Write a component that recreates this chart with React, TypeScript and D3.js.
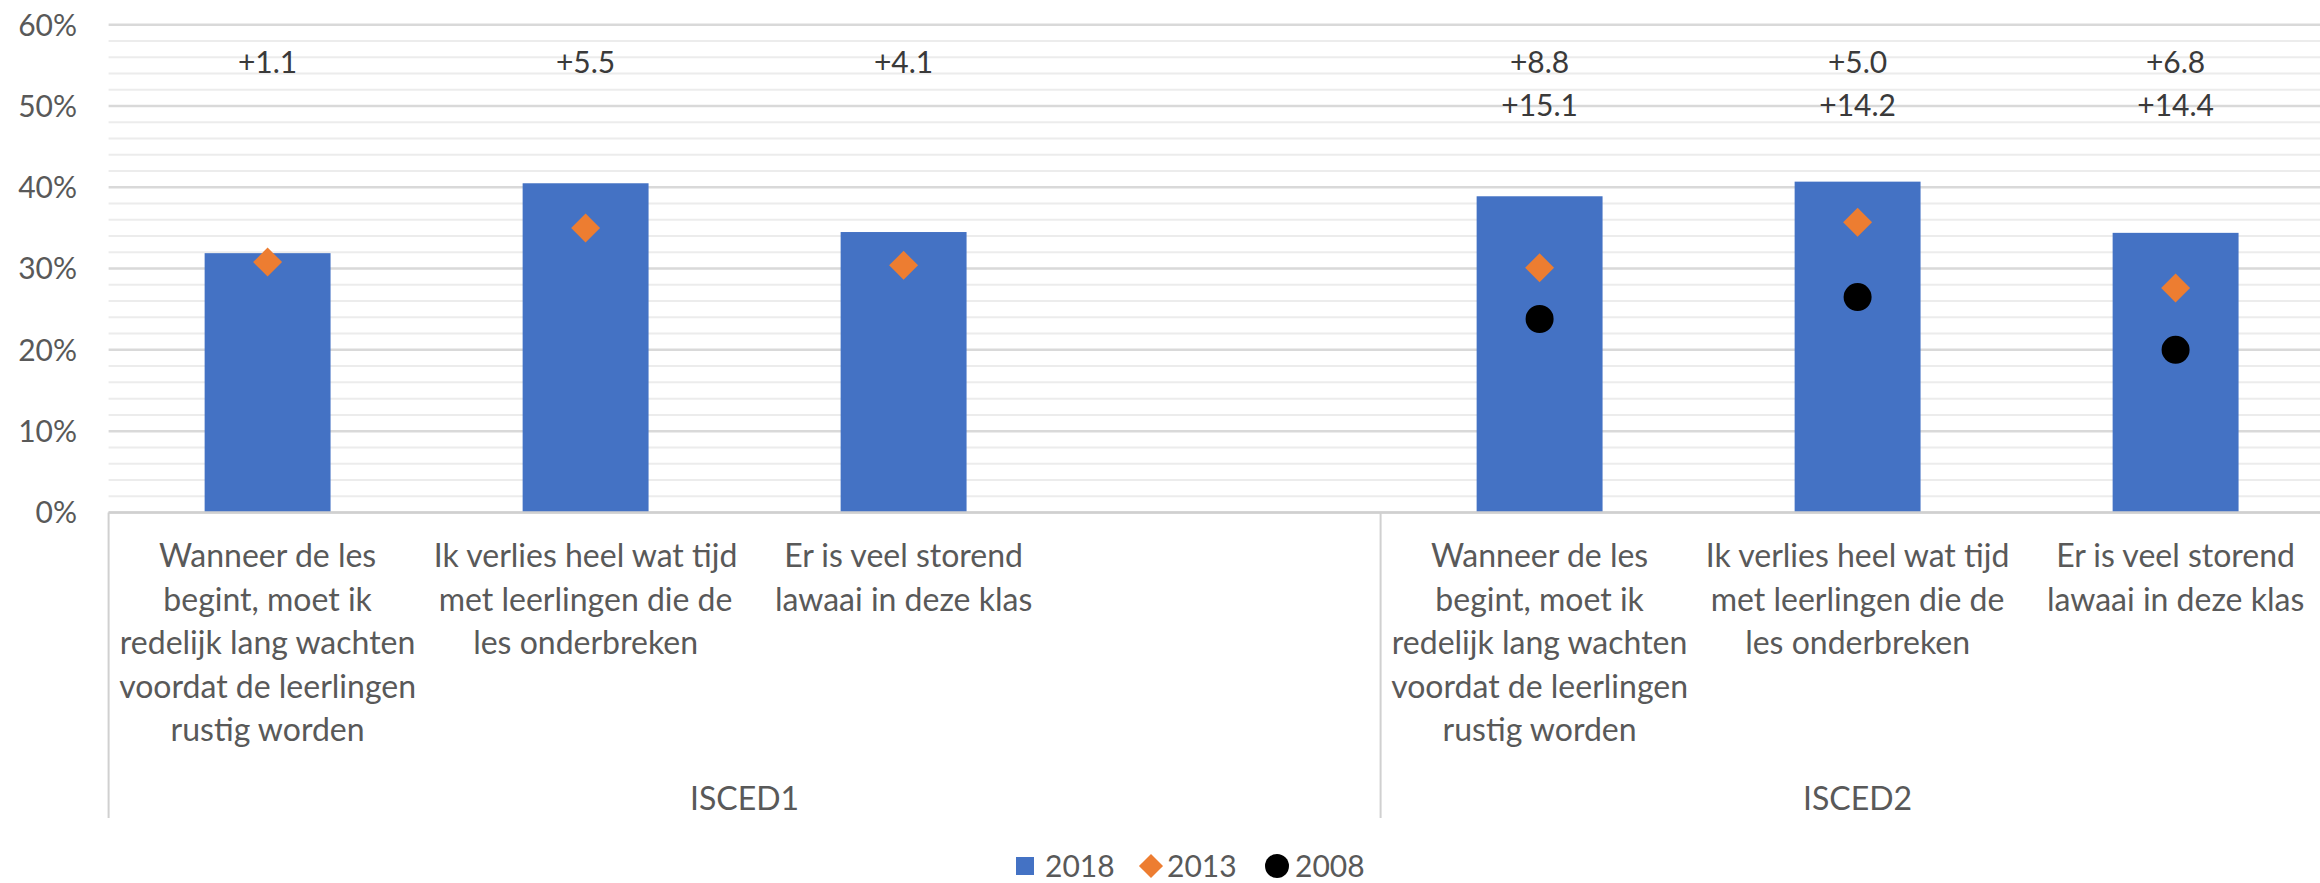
import React from "react";
import * as d3 from "d3";

// ---- data ----
const categoryIds = ["i1a", "i1b", "i1c", "i1gap", "i2a", "i2b", "i2c"];
const categoryLines: string[][] = [
  ["Wanneer de les", "begint, moet ik", "redelijk lang wachten", "voordat de leerlingen", "rustig worden"],
  ["Ik verlies heel wat tijd", "met leerlingen die de", "les onderbreken"],
  ["Er is veel storend", "lawaai in deze klas"],
  [],
  ["Wanneer de les", "begint, moet ik", "redelijk lang wachten", "voordat de leerlingen", "rustig worden"],
  ["Ik verlies heel wat tijd", "met leerlingen die de", "les onderbreken"],
  ["Er is veel storend", "lawaai in deze klas"],
];
const groups = ["ISCED1", "ISCED2"];
const groupSizes = [4, 3];
const values2018: (number | null)[] = [31.9, 40.5, 34.5, null, 38.9, 40.7, 34.4];
const values2013: (number | null)[] = [30.8, 35.0, 30.4, null, 30.1, 35.7, 27.6];
const values2008: (number | null)[] = [null, null, null, null, 23.8, 26.5, 20.0];
const diff2013: string[] = ["+1.1", "+5.5", "+4.1", "", "+8.8", "+5.0", "+6.8"];
const diff2008: string[] = ["", "", "", "", "+15.1", "+14.2", "+14.4"];
const yTicks = [0, 10, 20, 30, 40, 50, 60];
const seriesNames = ["2018", "2013", "2008"];

// ---- layout ----
const W = 2320;
const H = 883;
const left = 108.6;
const slot = 318;
const right = left + slot * categoryIds.length;
const y0 = 512.4;
const yTop = 24.8;

const BLUE = "#4472C4";
const ORANGE = "#ED7D31";
const FONT = "Lato, 'Open Sans', sans-serif";
const GRAY_TEXT = "#595959";

export default function App() {
  const x = d3
    .scaleBand<string>()
    .domain(categoryIds)
    .range([left, right])
    .paddingInner(0.604)
    .paddingOuter(0.302);
  const y = d3.scaleLinear().domain([0, 60]).range([y0, yTop]);
  const minor = d3.range(0, 61, 2).filter((v) => v % 10 !== 0);

  const cx = (i: number) => (x(categoryIds[i]) as number) + x.bandwidth() / 2;
  const diamond = d3.symbol(d3.symbolSquare, 420)()!;
  const circle = d3.symbol(d3.symbolCircle, 616)()!;
  const legDiamond = d3.symbol(d3.symbolSquare, 290)()!;
  const legCircle = d3.symbol(d3.symbolCircle, 452)()!;

  // group boundaries
  const bounds: number[] = [left];
  groupSizes.forEach((n, g) => bounds.push(bounds[g] + n * x.step()));

  const legY = 866;

  return (
    <svg
      width={W}
      height={H}
      style={{ position: "absolute", left: 0, top: 0, overflow: "hidden", background: "#fff" }}
      fontFamily={FONT}
    >
      <rect x={0} y={0} width={W} height={H} fill="#fff" />
      {/* minor gridlines */}
      {minor.map((v) => (
        <line key={"m" + v} x1={left} x2={right} y1={y(v)} y2={y(v)} stroke="#ececec" strokeWidth={2} />
      ))}
      {/* major gridlines */}
      {yTicks.map((v) => (
        <line key={"M" + v} x1={left} x2={right} y1={y(v)} y2={y(v)} stroke="#d9d9d9" strokeWidth={2.5} />
      ))}
      {/* y tick labels */}
      {yTicks.map((v) => (
        <text key={"t" + v} x={77} y={y(v)} dy="0.36em" textAnchor="end" fontSize={30} fill={GRAY_TEXT}>
          {v + "%"}
        </text>
      ))}
      {/* bars */}
      {values2018.map((v, i) =>
        v == null ? null : (
          <rect
            key={"b" + i}
            x={x(categoryIds[i])}
            y={y(v)}
            width={x.bandwidth()}
            height={y(0) - y(v)}
            fill={BLUE}
          />
        )
      )}
      {/* axis line */}
      <line x1={left} x2={right} y1={y(0)} y2={y(0)} stroke="#d0d0d0" strokeWidth={2.5} />
      {/* group separators */}
      {bounds.map((b, i) => (
        <line key={"s" + i} x1={b} x2={b} y1={y(0)} y2={818} stroke="#d0d0d0" strokeWidth={2} />
      ))}
      {/* 2013 diamonds */}
      {values2013.map((v, i) =>
        v == null ? null : (
          <path key={"d" + i} d={diamond} transform={`translate(${cx(i)},${y(v)}) rotate(45)`} fill={ORANGE} />
        )
      )}
      {/* 2008 circles */}
      {values2008.map((v, i) =>
        v == null ? null : <path key={"c" + i} d={circle} transform={`translate(${cx(i)},${y(v)})`} fill="#000" />
      )}
      {/* difference labels */}
      {diff2013.map((t, i) =>
        t ? (
          <text key={"l1" + i} x={cx(i)} y={62} dy="0.36em" textAnchor="middle" fontSize={30} fill="#3a3a3a">
            {t}
          </text>
        ) : null
      )}
      {diff2008.map((t, i) =>
        t ? (
          <text key={"l2" + i} x={cx(i)} y={105} dy="0.36em" textAnchor="middle" fontSize={30} fill="#3a3a3a">
            {t}
          </text>
        ) : null
      )}
      {/* category labels */}
      {categoryLines.map((lines, i) => (
        <text key={"cat" + i} x={cx(i)} textAnchor="middle" fontSize={32} fill={GRAY_TEXT}>
          {lines.map((ln, j) => (
            <tspan key={j} x={cx(i)} y={567 + j * 43.5}>
              {ln}
            </tspan>
          ))}
        </text>
      ))}
      {/* group labels */}
      {groups.map((g, i) => (
        <text key={g} x={(bounds[i] + bounds[i + 1]) / 2} y={810} textAnchor="middle" fontSize={32} fill={GRAY_TEXT}>
          {g}
        </text>
      ))}
      {/* legend */}
      <g>
        <rect x={1016} y={legY - 9} width={18} height={18} fill={BLUE} />
        <text x={1045} y={legY} dy="0.36em" fontSize={30} fill={GRAY_TEXT}>
          {seriesNames[0]}
        </text>
        <path d={legDiamond} transform={`translate(1151,${legY}) rotate(45)`} fill={ORANGE} />
        <text x={1167} y={legY} dy="0.36em" fontSize={30} fill={GRAY_TEXT}>
          {seriesNames[1]}
        </text>
        <path d={legCircle} transform={`translate(1277,${legY})`} fill="#000" />
        <text x={1295} y={legY} dy="0.36em" fontSize={30} fill={GRAY_TEXT}>
          {seriesNames[2]}
        </text>
      </g>
    </svg>
  );
}
